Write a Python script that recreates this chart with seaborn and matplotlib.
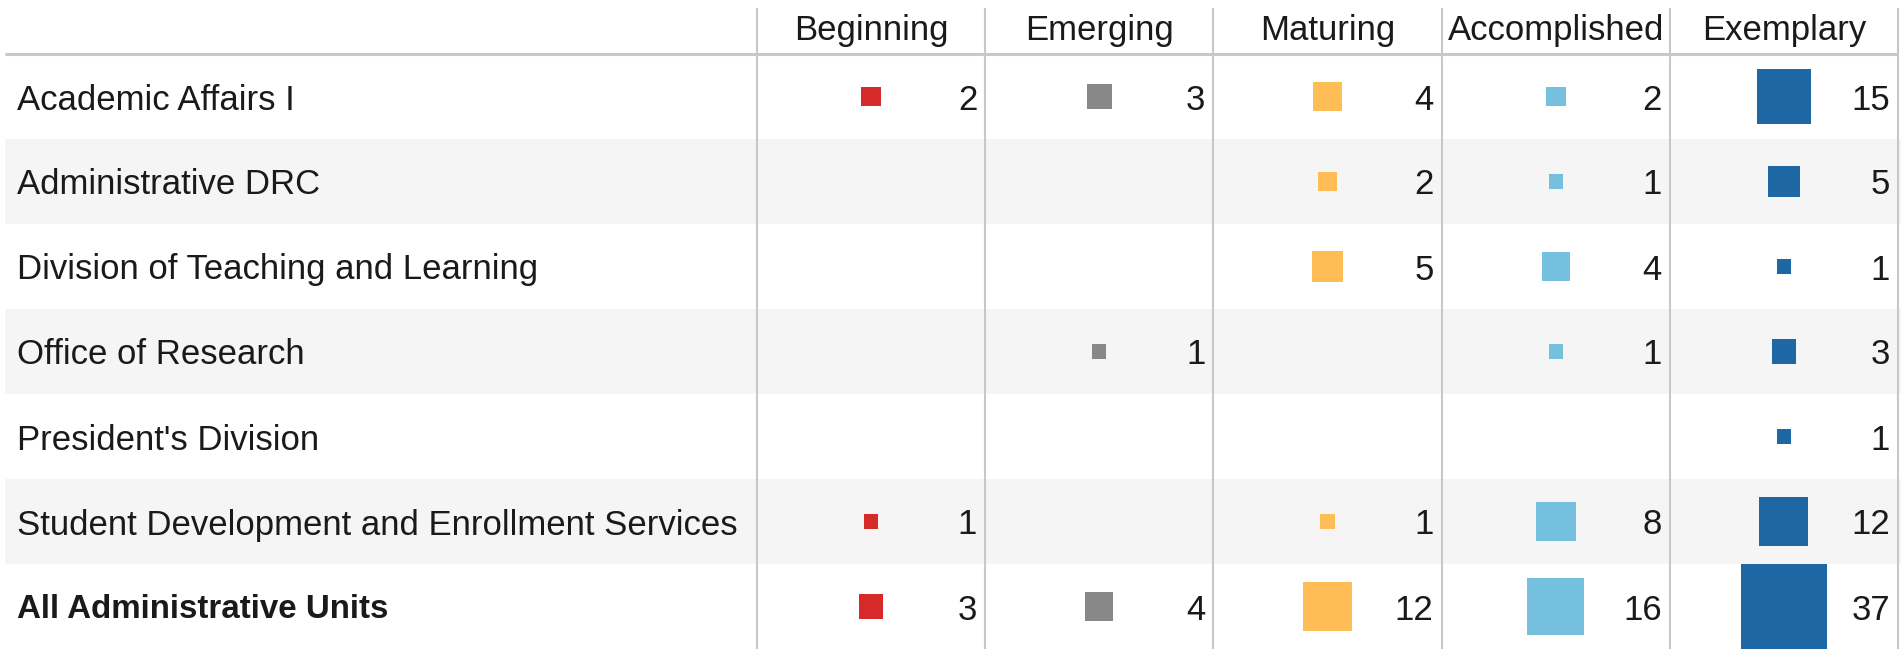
import numpy as np
import pandas as pd
import matplotlib
matplotlib.use("Agg")
import matplotlib.pyplot as plt
import seaborn as sns

# ---- data -------------------------------------------------------------
levels = ["Beginning", "Emerging", "Maturing", "Accomplished", "Exemplary"]
units = [
    "Academic Affairs I",
    "Administrative DRC",
    "Division of Teaching and Learning",
    "Office of Research",
    "President's Division",
    "Student Development and Enrollment Services",
    "All Administrative Units",
]
beginning = [2, None, None, None, None, 1, 3]
emerging = [3, None, None, 1, None, None, 4]
maturing = [4, 2, 5, None, None, 1, 12]
accomplished = [2, 1, 4, 1, None, 8, 16]
exemplary = [15, 5, 1, 3, 1, 12, 37]
level_colors = ["#d62a2a", "#888888", "#ffbe55", "#76c0df", "#1f66a4"]

# ---- tidy frame -------------------------------------------------------
series = [beginning, emerging, maturing, accomplished, exemplary]
rows = []
for li, (lvl, vals) in enumerate(zip(levels, series)):
    for ui, v in enumerate(vals):
        if v is not None:
            rows.append({"unit": units[ui], "row": ui, "level": lvl, "col": li, "count": v})
df = pd.DataFrame(rows)

# ---- theme / fonts ----------------------------------------------------
sns.set_theme(style="white")
plt.rcParams["font.family"] = ["Liberation Sans", "DejaVu Sans"]

# ---- layout (x in pixels, y in row units) -----------------------------
W, H, DPI = 1901, 649, 100
label_w = 757
col_w = 228.2
header_h = 54 / 85  # header height in row units
txt = "#1a1a1a"
grid = "#c8c8c8"

fig = plt.figure(figsize=(W / DPI, H / DPI), dpi=DPI)
ax = fig.add_axes([0, 0, 1, 1])
ax.set_xlim(0, W)
n = len(units)
ax.set_ylim(n - 0.5, -0.5 - header_h)
ax.axis("off")

# size the type so the longest unit name fills the label column
renderer = fig.canvas.get_renderer()
probe = ax.text(0, 0, units[5], fontsize=20)
probe_w = probe.get_window_extent(renderer).width
probe.remove()
fs = 20 * 718 / probe_w

col_centers = label_w + col_w * (np.arange(len(levels)) + 0.5)
col_edges = label_w + col_w * np.arange(len(levels) + 1)

# alternating row bands
for r in range(n):
    if r % 2 == 1:
        ax.axhspan(r - 0.5, r + 0.5, xmin=5 / W, xmax=1, color="#f5f5f5", zorder=0, lw=0)

# grid lines
top = -0.5 - header_h + 8 / 85
ax.vlines(col_edges, top, n - 0.5, color=grid, lw=1.5, zorder=1)
ax.hlines(-0.5, 5, col_edges[-1], color=grid, lw=2.2, zorder=1)

# squares: area proportional to count
df["x"] = col_centers[df["col"].to_numpy()]
px_per_pt = DPI / 72
side_px_max = 86
max_area = (side_px_max / px_per_pt) ** 2
sns.scatterplot(
    data=df, x="x", y="row", hue="level", hue_order=levels, palette=level_colors,
    size="count", size_norm=(0, df["count"].max()), sizes=(0, max_area),
    marker="s", linewidth=0, legend=False, ax=ax, zorder=3,
)

# count labels
for _, r in df.iterrows():
    ax.text(col_edges[int(r["col"]) + 1] - 8, r["row"], f"{int(r['count'])}",
            ha="right", va="center_baseline", fontsize=fs, color=txt, zorder=4)

# row labels (the total row is bold, set a touch smaller to keep its width)
for i, u in enumerate(units):
    is_total = i == n - 1
    ax.text(17, i, u, ha="left", va="center_baseline",
            fontsize=fs * 0.955 if is_total else fs, color=txt,
            fontweight="bold" if is_total else "normal", zorder=4)

# column headers
for c, lvl in zip(col_centers, levels):
    ax.text(c, -0.5 - header_h / 2, lvl, ha="center", va="center_baseline",
            fontsize=fs, color=txt, zorder=4)

fig.savefig("out.png", dpi=DPI, facecolor="white")
